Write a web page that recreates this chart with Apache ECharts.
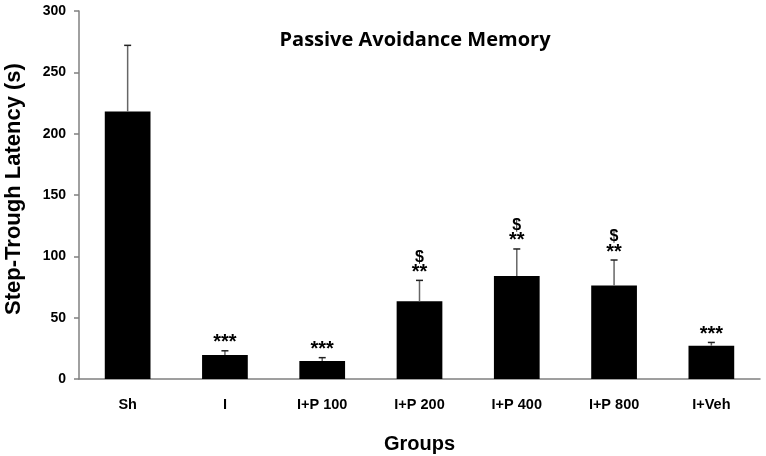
<!DOCTYPE html>
<html><head><meta charset="utf-8">
<script src="https://cdn.jsdelivr.net/npm/echarts@6/dist/echarts.min.js"></script>
<style>html,body{margin:0;padding:0;background:#fff}#c{width:766px;height:456px}</style>
</head><body><div id="c"></div>
<script>
const categories = ['Sh', 'I', 'I+P 100', 'I+P 200', 'I+P 400', 'I+P 800', 'I+Veh'];
const means = [218, 19.6, 14.7, 63.3, 84, 76.3, 27.1];
const errTops = [272, 23, 17.4, 80.4, 106, 97, 29.8];
const stars = ['', '***', '***', '**', '**', '**', '***'];
const dollars = ['', '', '', '$', '$', '$', ''];
const yTicks = [0, 50, 100, 150, 200, 250, 300];

const chart = echarts.init(document.getElementById('c'), null, {renderer: 'canvas'});
const F = '"Liberation Sans", Arial, sans-serif';
chart.setOption({
  animation: false,
  title: {
    text: 'Passive Avoidance Memory', left: 410, top: 25, textAlign: 'center',
    textStyle: {fontFamily: '"Open Sans", sans-serif', fontWeight: 'bold', fontSize: 20, color: '#000'}
  },
  grid: {left: 79, right: 6, top: 11, bottom: 77, containLabel: false, outerBoundsMode: 'none'},
  xAxis: {
    type: 'category', data: categories,
    name: 'Groups', nameLocation: 'middle', nameGap: 55,
    nameTextStyle: {fontFamily: F, fontWeight: 'bold', fontSize: 20, color: '#000'},
    axisLine: {lineStyle: {color: '#808080', width: 1.5}},
    axisTick: {show: false},
    axisLabel: {fontFamily: F, fontWeight: 'bold', fontSize: 14.5, color: '#000', margin: 18}
  },
  yAxis: {
    type: 'value', min: yTicks[0], max: yTicks[yTicks.length - 1], interval: 50,
    name: 'Step-Trough Latency (s)', nameLocation: 'middle', nameGap: 54, nameRotate: 90,
    nameTextStyle: {fontFamily: F, fontWeight: 'bold', fontSize: 22, color: '#000', padding: [0, 0, 0, 12]},
    axisLine: {show: true, lineStyle: {color: '#808080', width: 1.5}},
    axisTick: {show: true, inside: false, length: 5, lineStyle: {color: '#808080', width: 1.5}},
    splitLine: {show: false},
    axisLabel: {fontFamily: F, fontWeight: 'bold', fontSize: 14, color: '#000', margin: 13}
  },
  series: [
    {
      type: 'bar', data: means, barWidth: '47%',
      itemStyle: {color: '#000'}
    },
    {
      type: 'custom',
      data: categories.map((c, i) => [i, means[i], errTops[i]]),
      renderItem: function (params, api) {
        const i = api.value(0);
        const base = api.coord([i, api.value(1)]);
        const top = api.coord([i, api.value(2)]);
        const x = base[0];
        const children = [
          {type: 'line', shape: {x1: x, y1: base[1], x2: x, y2: top[1]}, style: {stroke: '#666', lineWidth: 1.5}},
          {type: 'line', shape: {x1: x - 3.5, y1: top[1], x2: x + 3.5, y2: top[1]}, style: {stroke: '#222', lineWidth: 1.5}}
        ];
        const s = stars[i], d = dollars[i];
        if (s) {
          children.push({type: 'text', style: {text: s, x: x, y: top[1] + 2, align: 'center', verticalAlign: 'bottom',
            font: 'bold 20px ' + F, fill: '#000'}});
        }
        if (d) {
          children.push({type: 'text', style: {text: d, x: x, y: top[1] - 15, align: 'center', verticalAlign: 'bottom',
            font: 'bold 16px ' + F, fill: '#000'}});
        }
        return {type: 'group', children: children};
      },
      z: 5
    }
  ]
});
</script></body></html>
